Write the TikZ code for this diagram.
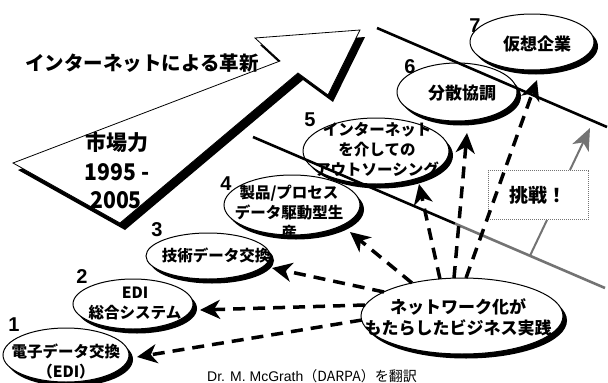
\documentclass[tikz,border=0pt]{standalone}
\usepackage{fontspec}
\newfontfamily\jp{Noto Sans CJK JP}
\newfontfamily\lab{Liberation Sans}
\usetikzlibrary{shapes.geometric,arrows.meta,shadows}
\begin{document}
\begin{tikzpicture}[x=1pt,y=-1pt,
  ell/.style={ellipse,draw,line width=1pt,fill=white,inner sep=0pt,
    drop shadow={shadow xshift=4pt,shadow yshift=-4.5pt,fill=black,opacity=1}},
  etext/.style={font=\jp\bfseries\fontsize{15.5}{20}\selectfont,align=center,inner sep=0pt},
  numlab/.style={font=\lab\bfseries\fontsize{20}{20}\selectfont,inner sep=0pt},
  darr/.style={line width=3.5pt,dash pattern=on 12pt off 8pt,-{Stealth[length=20pt,width=19pt,inset=6pt]}},
  ridge/.style={line width=2.6pt},
]
\useasboundingbox[fill=white] (0,0) rectangle (608,383);

% big rising arrow with shadow
\fill[black,shift={(5,7)}] (13,163) -- (280,61) -- (255,38) -- (360,30) -- (328,95) -- (298,73) -- (120,223) -- cycle;
\draw[fill=white,line width=0.8pt] (13,163) -- (280,61) -- (255,38) -- (360,30) -- (328,95) -- (298,73) -- (120,223) -- cycle;
\node[font=\jp\bfseries\fontsize{19.5}{20}\selectfont,inner sep=0pt] (title) at (142,63) {インターネットによる革新};
\node[font=\jp\bfseries\fontsize{21}{22}\selectfont,inner sep=0pt] (mkt) at (117,143) {市場力};
\node[font=\jp\fontsize{23}{24}\selectfont,inner sep=0pt] (y1) at (117,172) {\scalebox{0.92}[1]{\textbf{1995 -}}};
\node[font=\jp\fontsize{23}{24}\selectfont,inner sep=0pt] (y2) at (116,200) {\scalebox{0.92}[1]{\textbf{2005}}};

% ellipses
\node[ell,minimum width=126pt,minimum height=54pt] (e1) at (66,355) {};
\node[ell,minimum width=120pt,minimum height=50pt] (e2) at (133,304) {};
\node[ell,minimum width=124pt,minimum height=46pt] (e3) at (208,256) {};
\node[ell,minimum width=136pt,minimum height=60pt] (e4) at (292,205) {};
\node[ell,minimum width=146pt,minimum height=66pt] (e5) at (376,151) {};
\node[ell,minimum width=120pt,minimum height=58pt] (e6) at (457,92) {};
\node[ell,minimum width=124pt,minimum height=56pt] (e7) at (532,42) {};
\node[ell,minimum width=202pt,minimum height=76pt] (e8) at (462,316) {};

\node[etext] (t1) at (66,361) {電子データ交換\\（EDI）};
\node[etext] (t2) at (135,303.5) {EDI\\総合システム};
\node[etext] (t3) at (216,255) {技術データ交換};
\begin{scope}
\clip (292,205) ellipse [x radius=68pt,y radius=30pt];
\node[etext] (t4) at (289,212) {製品/プロセス\\データ駆動型生\\産};
\end{scope}
\node[etext] (t5) at (377,150) {インターネット\\を介しての\\アウトソーシング};
\node[etext,font=\jp\bfseries\fontsize{17}{20}\selectfont] (t6) at (462,93) {分散協調};
\node[etext,font=\jp\bfseries\fontsize{17}{20}\selectfont] (t7) at (537,44) {仮想企業};
\node[etext,font=\jp\bfseries\fontsize{17}{21}\selectfont] (t8) at (458,317.5) {ネットワーク化が\\もたらしたビジネス実践};

% number labels
\node[numlab] (n1) at (14,325) {1};
\node[numlab] (n2) at (82,277) {2};
\node[numlab] (n3) at (157,230) {3};
\node[numlab] (n4) at (226,184) {4};
\node[numlab] (n5) at (310,120) {5};
\node[numlab] (n6) at (410,67) {6};
\node[numlab] (n7) at (475,26) {7};

% parallel boundary lines
\coordinate (la1) at (377,28);
\coordinate (la2) at (607,127);
\coordinate (lb1) at (253,137);
\coordinate (lbm) at (455,223.6);
\coordinate (lb2) at (605,288);
\coordinate (lbc) at (530,255.7);
\draw[ridge] (la1) -- (la2);
\draw[ridge] (lb1) -- (lbm);
\draw[ridge,black!55] (lbm) -- (lb2);

% challenge box
\node[draw=black!55,densely dotted,line width=1pt,fill=white,minimum width=100pt,minimum height=49pt,
  font=\jp\bfseries\fontsize{19}{20}\selectfont] (bx) at (538,195) {挑戦！};
\coordinate (ga) at (590,128);
\draw[black!55,line width=2pt] ([xshift=9pt]bx.south) -- (lbc);
\draw[black!55,line width=2pt,-{Stealth[length=22pt,width=18pt,inset=6pt]}] ([xshift=32pt]bx.north) -- (ga);

% dashed arrows from e8
\coordinate (s1) at (362,320);
\coordinate (s2) at (365,305);
\coordinate (s3) at (384,292);
\coordinate (s4) at (412,283);
\coordinate (s5) at (440,279);
\coordinate (s6) at (454,278);
\coordinate (s7) at (466,278);
\coordinate (p1) at (137,357);
\coordinate (p2) at (200,310);
\coordinate (p3) at (272,268);
\coordinate (p4) at (350,232);
\coordinate (p5) at (419,184);
\coordinate (p6) at (467,133);
\coordinate (p7) at (537,80);
\draw[darr] (s1) -- (p1);
\draw[darr] (s2) -- (p2);
\draw[darr] (s3) -- (p3);
\draw[darr] (s4) -- (p4);
\draw[darr] (s5) -- (p5);
\draw[darr] (s6) -- (p6);
\draw[darr] (s7) -- (p7);

% credit
\node[font=\lab\fontsize{14}{15}\selectfont,inner sep=0pt] (cr) at (312,376) {Dr. M. McGrath{\jp（DARPA）を翻訳}};
\end{tikzpicture}
\end{document}
